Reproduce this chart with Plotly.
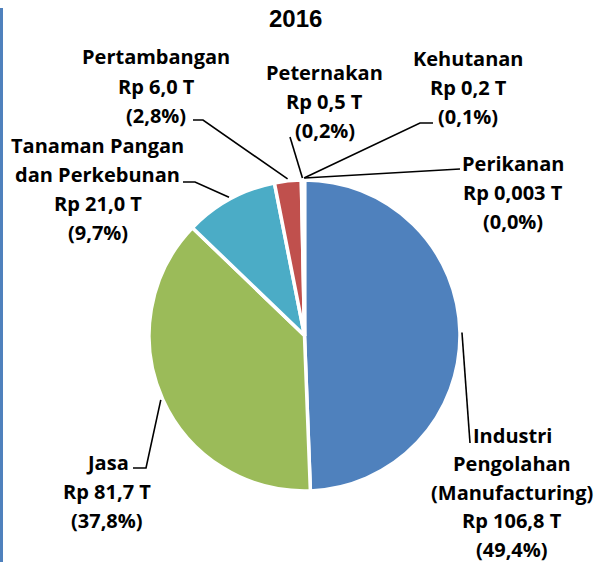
import math
import plotly.graph_objects as go

# ---------------- data ----------------
sectors = ["Industri Pengolahan (Manufacturing)", "Jasa", "Tanaman Pangan dan Perkebunan",
           "Pertambangan", "Peternakan", "Kehutanan", "Perikanan"]
values = [106.8, 81.7, 21.0, 6.0, 0.5, 0.2, 0.003]
value_labels = ["Rp 106,8 T", "Rp 81,7 T", "Rp 21,0 T", "Rp 6,0 T", "Rp 0,5 T", "Rp 0,2 T", "Rp 0,003 T"]
name_lines = [["Industri", "Pengolahan", "(Manufacturing)"], ["Jasa"],
              ["Tanaman Pangan", "dan Perkebunan"], ["Pertambangan"], ["Peternakan"],
              ["Kehutanan"], ["Perikanan"]]
colors = ["#4F81BD", "#9BBB59", "#4BACC6", "#C0504D", "#8064A2", "#F79646", "#2C4D75"]
title_text = "2016"

# ---------------- layout geometry (pixels) ----------------
W, H = 607, 562
CX, CY, R = 304.5, 335.5, 155.5
# label block: (center x, y of first line, line spacing)
label_pos = [(512, 435, 28.6), (107, 462, 29.3), (98, 145, 29.3), (156, 57, 29.3),
             (325, 72, 29.3), (468, 58, 29.3), (513, 163, 29.3)]
# leader line points from label side (elbows), end point computed on the pie edge
leader_pts = [[(470, 443)], [(133, 468), (146, 468)], [(183, 182), (195, 182)],
              [(193, 120), (203, 120)], [(290, 137)], [(433, 123), (420, 123)], [(460, 169)]]

def px(x):
    return x / W

def py(y):
    return 1 - y / H

total = sum(values)
pct_labels = ["(" + f"{v / total * 100:.1f}".replace(".", ",") + "%)" for v in values]

fig = go.Figure(go.Pie(
    labels=sectors, values=values, sort=False, direction="clockwise", rotation=0,
    marker=dict(colors=colors, line=dict(color="white", width=3.5)),
    textinfo="none", hoverinfo="skip", showlegend=False,
    domain=dict(x=[px(CX - R), px(CX + R)], y=[py(CY + R), py(CY - R)]),
))

annotations = []
shapes = []
font = dict(family="Open Sans", size=20, color="black", weight="bold")

cum = 0.0
for i, v in enumerate(values):
    mid = (cum + v / 2) / total * 2 * math.pi
    cum += v
    ex = CX + (R + 2) * math.sin(mid)
    ey = CY - (R + 2) * math.cos(mid)
    pts = leader_pts[i] + [(ex, ey)]
    path = "M " + " L ".join(f"{px(x):.5f},{py(y):.5f}" for x, y in pts)
    shapes.append(dict(type="path", xref="paper", yref="paper", path=path,
                       line=dict(color="black", width=1.6)))
    lines = name_lines[i] + [value_labels[i], pct_labels[i]]
    lx, ly, lh = label_pos[i]
    for k, t in enumerate(lines):
        annotations.append(dict(text=t, x=px(lx), y=py(ly + k * lh), xref="paper", yref="paper",
                                xanchor="center", yanchor="middle", showarrow=False, font=font))

annotations.append(dict(text=title_text, x=px(295), y=py(18), xref="paper", yref="paper",
                        xanchor="center", yanchor="middle", showarrow=False,
                        font=dict(family="Liberation Sans", size=24, color="black", weight="bold")))

# decorative left border line
shapes.append(dict(type="line", xref="paper", yref="paper", x0=px(1.5), x1=px(1.5), y0=py(8), y1=py(H),
                   line=dict(color="#4F81BD", width=3)))

fig.update_layout(width=W, height=H, margin=dict(l=0, r=0, t=0, b=0),
                  paper_bgcolor="white", plot_bgcolor="white",
                  annotations=annotations, shapes=shapes)

fig.write_html("out.html", config={"displayModeBar": False},
               post_script="document.body.style.margin='0px';")
